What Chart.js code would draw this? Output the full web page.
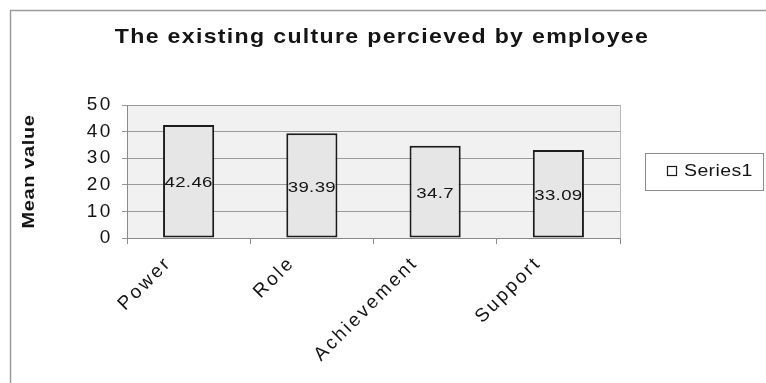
<!DOCTYPE html>
<html>
<head>
<meta charset="utf-8">
<script src="https://cdn.jsdelivr.net/npm/chart.js@4.4.1/dist/chart.umd.min.js"></script>
<style>
  html, body { margin: 0; padding: 0; background: #ffffff; }
  #wrap { position: relative; width: 766px; height: 383px; }
</style>
</head>
<body>
<div id="wrap"><canvas id="c" width="766" height="383"></canvas></div>
<script>
const chartTitle = 'The existing culture percieved by employee';
const yAxisTitle = 'Mean value';
const seriesName = 'Series1';
const categories = ['Power', 'Role', 'Achievement', 'Support'];
const meanValues = [42.46, 39.39, 34.7, 33.09];
const yTickMin = 0;
const yTickMax = 50;
const yTickStep = 10;

const FONT = '"Liberation Sans", Arial, sans-serif';
const TEXT = '#141414';

// draw text stretched horizontally (wide glyphs as in the reference)
function wideText(ctx, text, x, y, sx, align) {
  ctx.save();
  ctx.translate(x, y);
  ctx.scale(sx, 1);
  ctx.textAlign = align;
  ctx.fillText(text, 0, 0);
  ctx.restore();
}

const decorPlugin = {
  id: 'decor',
  beforeDraw(chart) {
    const ctx = chart.ctx;
    const a = chart.chartArea;
    ctx.save();
    ctx.fillStyle = '#ffffff';
    ctx.fillRect(0, 0, chart.width, chart.height);
    ctx.strokeStyle = '#9a9a9a';
    ctx.lineWidth = 1.5;
    ctx.beginPath();
    ctx.moveTo(10.5, chart.height);
    ctx.lineTo(10.5, 10.5);
    ctx.lineTo(chart.width, 10.5);
    ctx.stroke();
    ctx.fillStyle = '#f1f1f1';
    ctx.fillRect(a.left, a.top, a.right - a.left, a.bottom - a.top);
    ctx.strokeStyle = '#b8b8b8';
    ctx.lineWidth = 1;
    ctx.beginPath();
    ctx.moveTo(a.right + 0.5, a.top);
    ctx.lineTo(a.right + 0.5, a.bottom);
    ctx.stroke();
    ctx.restore();
    ctx.letterSpacing = '2.6px';
  },
  afterDraw(chart) {
    const ctx = chart.ctx;
    const a = chart.chartArea;
    ctx.save();
    ctx.letterSpacing = '0px';
    ctx.fillStyle = TEXT;
    ctx.textBaseline = 'alphabetic';
    // title
    ctx.letterSpacing = '1.2px';
    ctx.font = 'bold 21px ' + FONT;
    wideText(ctx, chartTitle, 382, 43, 1.1, 'center');
    // y axis title
    ctx.save();
    ctx.translate(29, (a.top + a.bottom) / 2);
    ctx.rotate(-Math.PI / 2);
    ctx.letterSpacing = '0.6px';
    ctx.font = 'bold 17px ' + FONT;
    ctx.textBaseline = 'middle';
    wideText(ctx, yAxisTitle, 0, 0, 1.17, 'center');
    ctx.restore();
    // legend
    const lx = 645, ly = 153, lw = 118, lh = 37;
    ctx.fillStyle = '#ffffff';
    ctx.fillRect(lx, ly, lw, lh);
    ctx.strokeStyle = '#8c8c8c';
    ctx.lineWidth = 1;
    ctx.strokeRect(lx + 0.5, ly + 0.5, lw, lh);
    ctx.fillStyle = '#ffffff';
    ctx.fillRect(667, 166, 9, 9);
    ctx.strokeStyle = '#1c1c1c';
    ctx.lineWidth = 1.2;
    ctx.strokeRect(667.5, 166.5, 9, 9);
    ctx.fillStyle = TEXT;
    ctx.letterSpacing = '0.3px';
    ctx.font = '16px ' + FONT;
    ctx.textBaseline = 'middle';
    wideText(ctx, chart.data.datasets[0].label, 684, 172, 1.22, 'left');
    ctx.restore();
  },
  afterDatasetsDraw(chart) {
    const ctx = chart.ctx;
    const meta = chart.getDatasetMeta(0);
    const data = chart.data.datasets[0].data;
    ctx.save();
    ctx.letterSpacing = '0.3px';
    ctx.font = '15px ' + FONT;
    ctx.fillStyle = TEXT;
    ctx.textBaseline = 'middle';
    meta.data.forEach((bar, i) => {
      const y = (bar.y + bar.base) / 2;
      wideText(ctx, String(data[i]), bar.x, y + 2, 1.24, 'center');
    });
    ctx.restore();
  }
};

new Chart(document.getElementById('c'), {
  type: 'bar',
  data: {
    labels: categories,
    datasets: [{
      label: seriesName,
      data: meanValues,
      backgroundColor: '#e6e6e6',
      borderColor: '#1c1c1c',
      borderWidth: 2,
      borderSkipped: false,
      barPercentage: 0.83,
      categoryPercentage: 0.5
    }]
  },
  options: {
    responsive: false,
    animation: false,
    events: [],
    layout: { padding: { left: 0, top: 105, right: 146, bottom: 0 } },
    plugins: {
      legend: { display: false },
      title: { display: false },
      tooltip: { enabled: false }
    },
    scales: {
      x: {
        grid: { display: true, drawOnChartArea: false, drawTicks: true, tickLength: 6, color: '#8a8a8a', offset: true },
        border: { color: '#8a8a8a' },
        ticks: {
          color: TEXT,
          font: { family: FONT, size: 19 },
          minRotation: 45,
          maxRotation: 45,
          autoSkip: false,
          padding: 8,
          labelOffset: -20
        },
        afterFit(scale) { scale.height = 145; }
      },
      y: {
        min: yTickMin,
        max: yTickMax,
        grid: { color: '#9a9a9a', tickLength: 5, lineWidth: 1 },
        border: { color: '#8a8a8a' },
        ticks: {
          stepSize: yTickStep,
          color: TEXT,
          font: { family: FONT, size: 19 },
          padding: 9
        },
        afterFit(scale) { scale.width = 127; }
      }
    }
  },
  plugins: [decorPlugin]
});
</script>
</body>
</html>
